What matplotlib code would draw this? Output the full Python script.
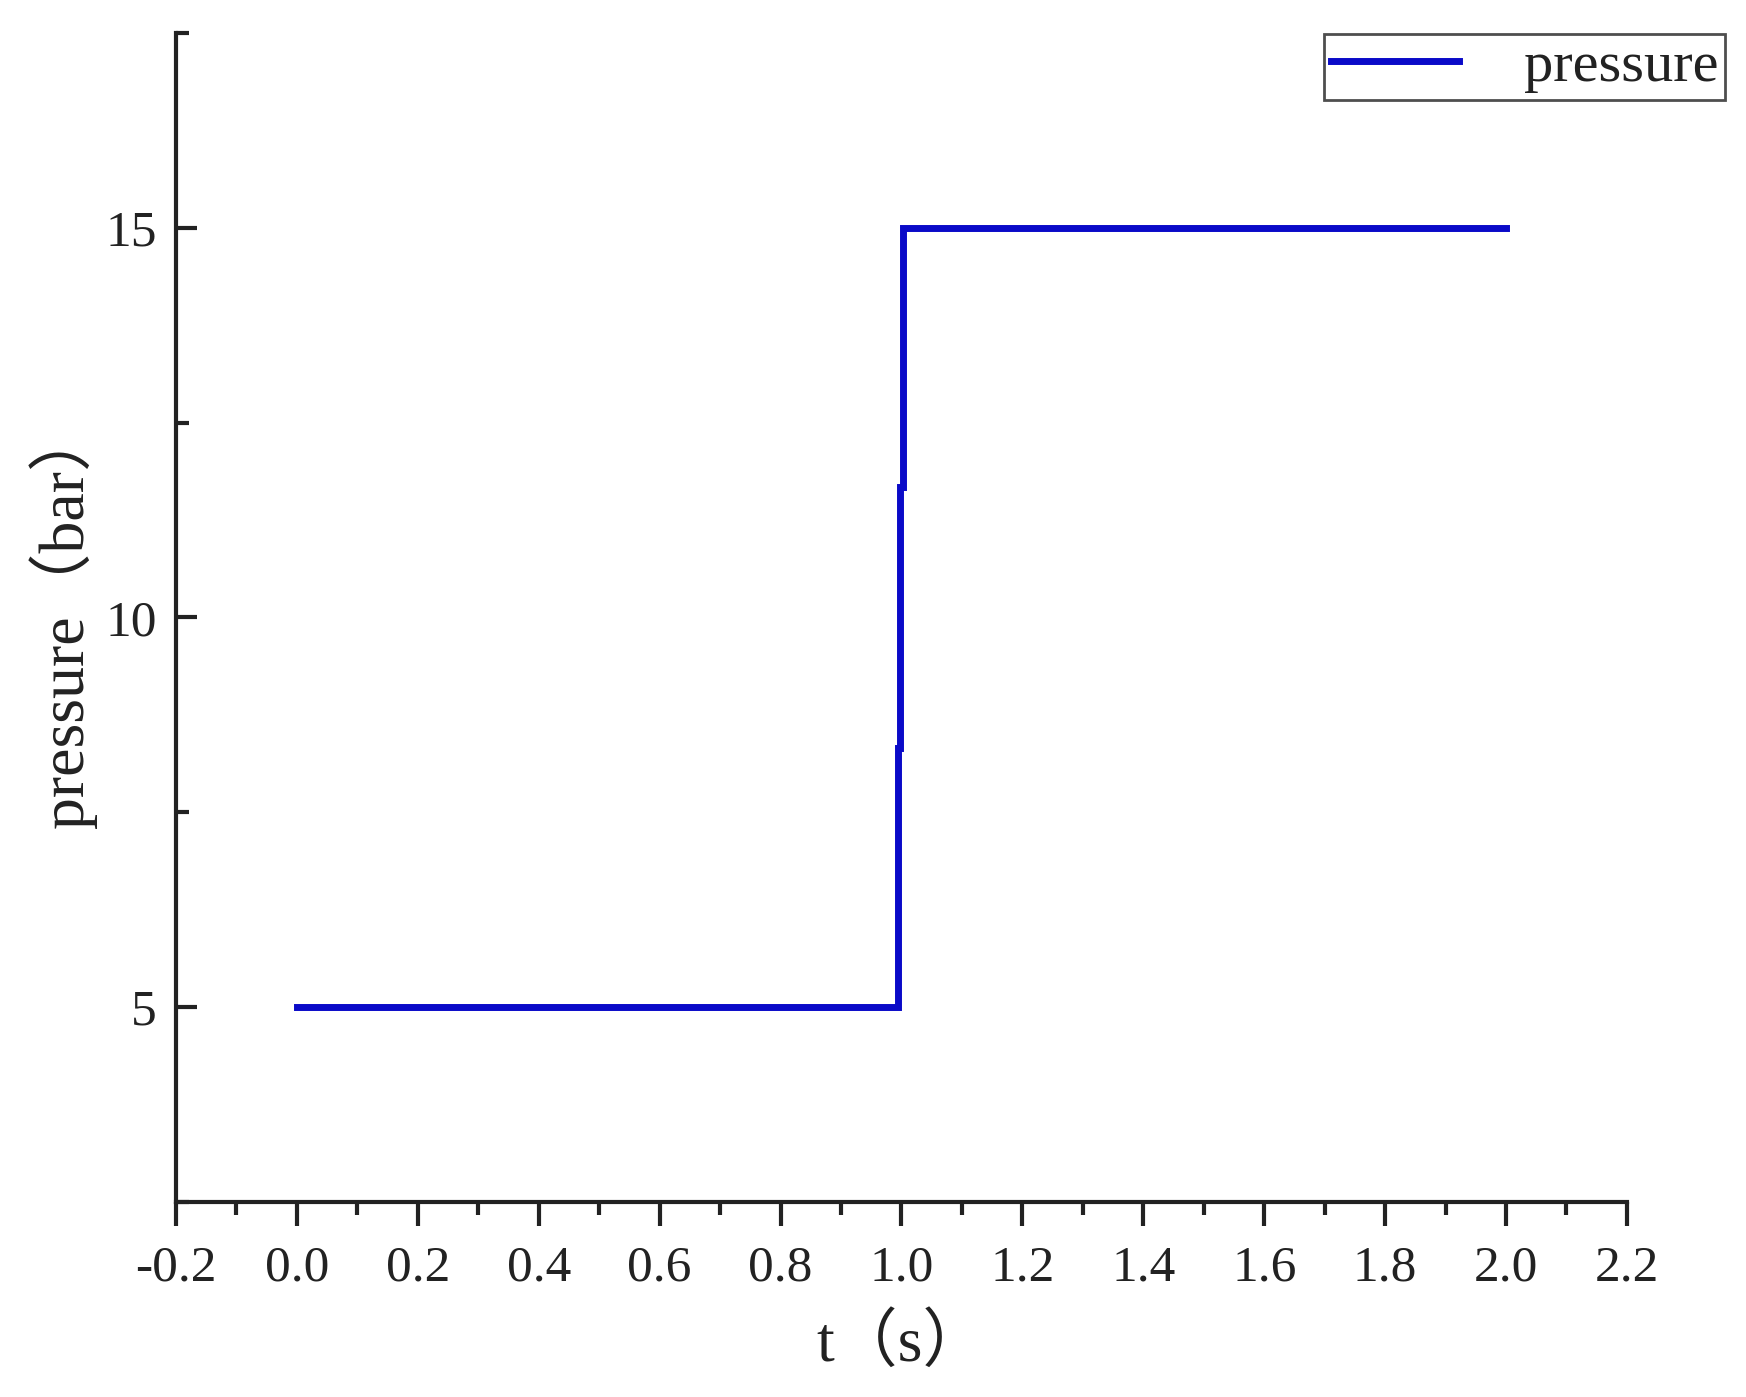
import numpy as np
import matplotlib
matplotlib.use("Agg")
import matplotlib.pyplot as plt
from matplotlib.ticker import MultipleLocator

# step in pressure at t = 1 s (drawn with two small kinks on the rise)
t = [0.0, 0.995, 0.995, 0.998, 0.998, 1.003, 1.003, 2.0]
pressure = [5.0, 5.0, 8.33, 8.33, 11.67, 11.67, 15.0, 15.0]

x_ticks = [-0.2, 0.0, 0.2, 0.4, 0.6, 0.8, 1.0, 1.2, 1.4, 1.6, 1.8, 2.0, 2.2]
y_ticks = [5, 10, 15]

plt.rcParams['font.family'] = ['Liberation Serif', 'Noto Sans CJK SC', 'DejaVu Serif']
ink = '#222222'

fig = plt.figure(figsize=(17.46, 13.97), dpi=100)
ax = fig.add_axes([0.1008, 0.1396, 0.831, 0.8368])

ax.plot(t, pressure, color='#0a0ac8', lw=5, solid_joinstyle='miter', label='pressure')

ax.set_xlim(-0.2, 2.2)
ax.set_ylim(2.5, 17.5)
ax.set_xticks(x_ticks)
ax.set_xticklabels(['%.1f' % v for v in x_ticks])
ax.set_yticks(y_ticks)
ax.xaxis.set_minor_locator(MultipleLocator(0.1))
ax.yaxis.set_minor_locator(MultipleLocator(2.5))

for side in ['top', 'right']:
    ax.spines[side].set_visible(False)
for side in ['left', 'bottom']:
    ax.spines[side].set_linewidth(3)
    ax.spines[side].set_color(ink)

ax.tick_params(axis='x', which='major', direction='out', length=17, width=3,
               color=ink, labelsize=37, labelcolor=ink, pad=14)
ax.tick_params(axis='x', which='minor', direction='out', length=9, width=3, color=ink)
ax.tick_params(axis='y', which='major', direction='in', length=15, width=3,
               color=ink, labelsize=37, labelcolor=ink, pad=14)
ax.tick_params(axis='y', which='minor', direction='in', length=9, width=3, color=ink)

ax.set_xlabel('t（s）', fontsize=46, color=ink, labelpad=16)
ax.set_ylabel('pressure（bar）', fontsize=46, color=ink, labelpad=6)

leg = ax.legend(loc='upper right', bbox_to_anchor=(0.988, 0.976),
                bbox_transform=fig.transFigure, fontsize=42, frameon=True,
                fancybox=False, handlelength=2.2, handletextpad=1.1,
                borderpad=0.12, borderaxespad=0)
leg.get_frame().set_edgecolor(ink)
leg.get_frame().set_linewidth(2)
for txt in leg.get_texts():
    txt.set_color(ink)

fig.savefig('out.png', dpi=100)
